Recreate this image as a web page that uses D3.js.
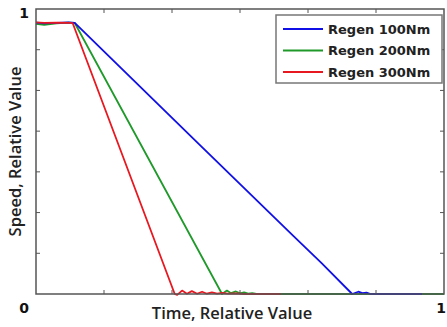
<!DOCTYPE html>
<html lang="en">
<head>
    <meta charset="UTF-8">
    <title>Regen braking speed</title>
    <script src="https://d3js.org/d3.v7.min.js"></script>
    <style>
        html, body {
            margin: 0;
            padding: 0;
            background: #fff;
        }
        svg {
            display: block;
        }
    </style>
</head>
<body>
    <svg id="chart"></svg>

    <script>
        // speed traces, [time, speed] in relative units
        const regen100 = [[0, 0.952], [0.02, 0.950], [0.05, 0.951], [0.08, 0.953], [0.095, 0.951],
            [0.40, 0.525], [0.63, 0.205], [0.70, 0.108], [0.775, 0],
            [0.79, 0.008], [0.80, 0.003], [0.81, 0.005], [0.82, 0], [0.946, 0]];
        const regen200 = [[0, 0.948], [0.02, 0.944], [0.05, 0.950], [0.08, 0.952], [0.095, 0.951],
            [0.456, 0], [0.468, 0.012], [0.478, 0.003], [0.490, 0.009], [0.500, 0.002],
            [0.510, 0.006], [0.520, 0.001], [0.530, 0.003], [0.54, 0], [1, 0]];
        const regen300 = [[0, 0.953], [0.02, 0.951], [0.05, 0.952], [0.085, 0.951], [0.09, 0.950],
            [0.34, 0], [0.346, -0.003], [0.358, 0.012], [0.370, 0.001], [0.382, 0.010],
            [0.395, 0.001], [0.407, 0.008], [0.419, 0.001], [0.431, 0.006], [0.444, 0.001],
            [0.456, 0.004], [0.47, 0.001], [0.49, 0.002], [0.51, 0], [0.6, 0]];

        const seriesNames = ["Regen 100Nm", "Regen 200Nm", "Regen 300Nm"];
        const seriesColors = ["#1010e6", "#1f9a2a", "#e81820"];
        const xTicks = d3.range(0, 7).map(i => i / 6);
        const yTicks = d3.range(0, 8).map(i => i / 7);

        const width = 447, height = 327;
        const margin = {left: 36, right: 3, top: 9, bottom: 33};

        const svg = d3.select("#chart")
            .attr("width", width)
            .attr("height", height);

        const x = d3.scaleLinear().domain([0, 1]).range([margin.left, width - margin.right]);
        const y = d3.scaleLinear().domain([0, 1]).range([height - margin.bottom, margin.top]);

        const line = d3.line().x(d => x(d[0])).y(d => y(d[1]));

        // green first, blue over it, red on top
        const traces = [
            {data: regen200, color: seriesColors[1]},
            {data: regen100, color: seriesColors[0]},
            {data: regen300, color: seriesColors[2]}
        ];

        svg.append("g").selectAll("path")
            .data(traces)
            .enter()
            .append("path")
            .attr("d", d => line(d.data))
            .attr("fill", "none")
            .attr("stroke", d => d.color)
            .attr("stroke-width", 1.8)
            .attr("stroke-linejoin", "round");

        // frame with inward ticks on all four sides
        const axisColor = "#555";
        const frame = svg.append("g");
        frame.append("rect")
            .attr("x", x(0)).attr("y", y(1))
            .attr("width", x(1) - x(0)).attr("height", y(0) - y(1))
            .attr("fill", "none")
            .attr("stroke", axisColor)
            .attr("stroke-width", 1.5);

        const innerX = xTicks.slice(1, -1), innerY = yTicks.slice(1, -1);
        frame.selectAll(".xb").data(innerX).enter().append("line")
            .attr("x1", d => x(d)).attr("x2", d => x(d))
            .attr("y1", y(0)).attr("y2", y(0) - 4)
            .attr("stroke", axisColor);
        frame.selectAll(".xt").data(innerX).enter().append("line")
            .attr("x1", d => x(d)).attr("x2", d => x(d))
            .attr("y1", y(1)).attr("y2", y(1) + 4)
            .attr("stroke", axisColor);
        frame.selectAll(".yl").data(innerY).enter().append("line")
            .attr("x1", x(0)).attr("x2", x(0) + 4)
            .attr("y1", d => y(d)).attr("y2", d => y(d))
            .attr("stroke", axisColor);
        frame.selectAll(".yr").data(innerY).enter().append("line")
            .attr("x1", x(1)).attr("x2", x(1) - 4)
            .attr("y1", d => y(d)).attr("y2", d => y(d))
            .attr("stroke", axisColor);

        // end labels only
        const tickFont = "bold 14px 'DejaVu Sans', sans-serif";
        svg.append("text").text("1")
            .attr("x", 24).attr("y", y(1) + 9)
            .attr("text-anchor", "middle")
            .style("font", tickFont).attr("fill", "#111");
        svg.append("text").text("0")
            .attr("x", 24).attr("y", height - 14)
            .attr("text-anchor", "middle")
            .style("font", tickFont).attr("fill", "#111");
        svg.append("text").text("1")
            .attr("x", width - 1).attr("y", height - 14)
            .attr("text-anchor", "end")
            .style("font", tickFont).attr("fill", "#111");

        const titleFont = "600 16.5px 'Open Sans', sans-serif";
        svg.append("text").text("Time, Relative Value")
            .attr("x", 232).attr("y", height - 8)
            .attr("text-anchor", "middle")
            .style("font", titleFont).attr("fill", "#222");
        svg.append("text").text("Speed, Relative Value")
            .attr("transform", `translate(21, ${(y(0) + y(1)) / 2}) rotate(-90)`)
            .attr("text-anchor", "middle")
            .style("font", titleFont).attr("fill", "#222");

        // legend
        const legend = svg.append("g");
        legend.append("rect")
            .attr("x", 276).attr("y", 15)
            .attr("width", 166).attr("height", 68)
            .attr("fill", "#fff")
            .attr("stroke", "#777")
            .attr("stroke-width", 1.5);
        const rows = legend.selectAll(".row")
            .data(seriesNames)
            .enter()
            .append("g")
            .attr("transform", (_, i) => `translate(0, ${29 + i * 21.5})`);
        rows.append("line")
            .attr("x1", 283).attr("x2", 323)
            .attr("stroke", (_, i) => seriesColors[i])
            .attr("stroke-width", 1.8);
        rows.append("text")
            .text(d => d)
            .attr("x", 328).attr("y", 4.5)
            .style("font", "bold 13px 'DejaVu Sans', sans-serif")
            .attr("fill", "#222");
    </script>
</body>
</html>
